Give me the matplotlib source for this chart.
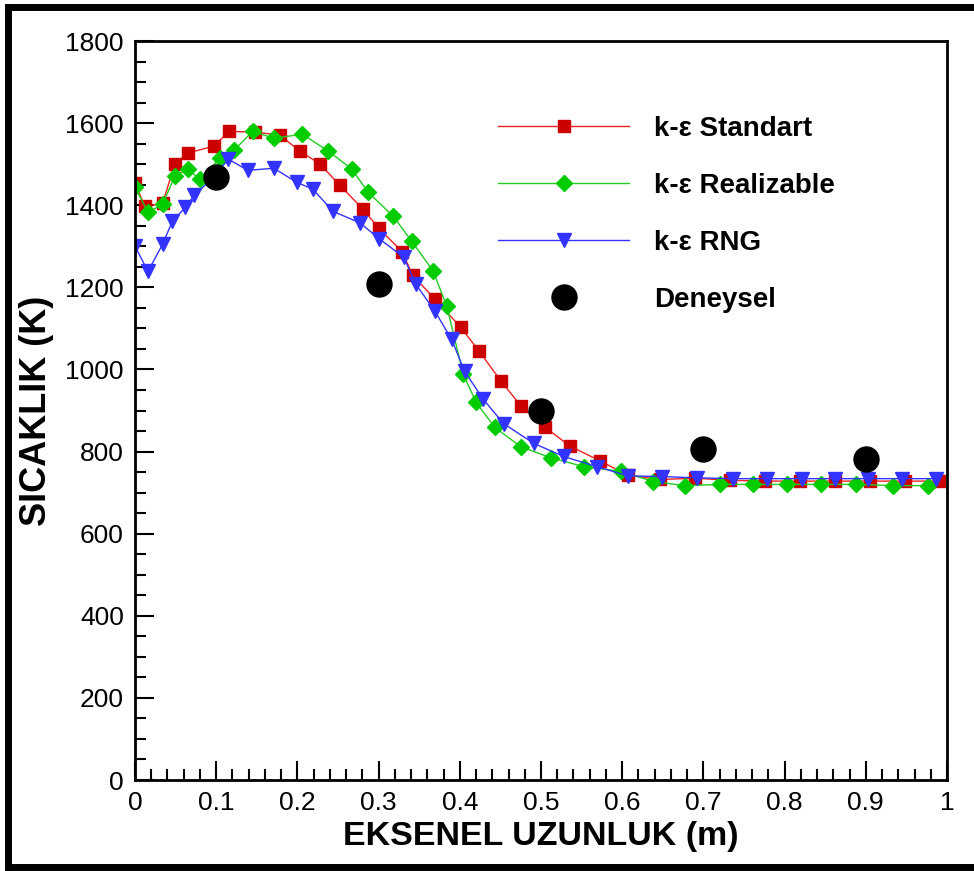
import matplotlib
matplotlib.use('Agg')
import matplotlib.pyplot as plt
from matplotlib.lines import Line2D

# k-epsilon standard model
std_x = [0.000, 0.012, 0.034, 0.049, 0.065, 0.097, 0.116, 0.148, 0.178, 0.203,
         0.228, 0.252, 0.281, 0.300, 0.329, 0.342, 0.369, 0.401, 0.424, 0.451,
         0.475, 0.505, 0.536, 0.573, 0.607, 0.647, 0.690, 0.733, 0.776, 0.819,
         0.862, 0.905, 0.948, 0.990]
std_y = [1455, 1397, 1405, 1500, 1527, 1544, 1580, 1578, 1571, 1532,
         1500, 1449, 1390, 1344, 1287, 1229, 1172, 1103, 1044, 971,
         912, 859, 813, 777, 742, 732, 735, 730, 728, 728,
         728, 728, 728, 728]

# k-epsilon realizable model
rea_x = [0.000, 0.016, 0.034, 0.049, 0.065, 0.080, 0.105, 0.122, 0.145, 0.171,
         0.206, 0.238, 0.267, 0.287, 0.318, 0.341, 0.367, 0.384, 0.404, 0.420,
         0.443, 0.475, 0.512, 0.553, 0.598, 0.638, 0.677, 0.720, 0.761, 0.803,
         0.845, 0.888, 0.934, 0.977]
rea_y = [1444, 1383, 1402, 1471, 1488, 1463, 1515, 1534, 1580, 1563,
         1573, 1532, 1488, 1432, 1373, 1312, 1240, 1154, 990, 920,
         859, 812, 785, 763, 752, 727, 717, 720, 720, 720,
         720, 720, 717, 717]

# k-epsilon RNG model
rng_x = [0.000, 0.016, 0.034, 0.046, 0.062, 0.073, 0.095, 0.115, 0.139, 0.171,
         0.199, 0.219, 0.244, 0.277, 0.301, 0.331, 0.346, 0.369, 0.390, 0.406,
         0.429, 0.454, 0.491, 0.528, 0.569, 0.607, 0.649, 0.692, 0.737, 0.778,
         0.821, 0.862, 0.903, 0.945, 0.986]
rng_y = [1300, 1239, 1305, 1361, 1395, 1424, 1465, 1512, 1485, 1490,
         1456, 1439, 1385, 1357, 1318, 1273, 1207, 1143, 1073, 995,
         927, 868, 820, 788, 763, 741, 739, 736, 734, 734,
         734, 734, 734, 734, 734]

# experimental data
exp_x = [0.1, 0.3, 0.5, 0.7, 0.9]
exp_y = [1468, 1207, 898, 807, 783]

labels = ['k-ε Standart', 'k-ε Realizable', 'k-ε RNG', 'Deneysel']

plt.rcParams['font.family'] = ['Liberation Sans', 'DejaVu Sans']

fig = plt.figure(figsize=(9.74, 8.71), dpi=100)
ax = fig.add_axes([135 / 974, 1 - 780 / 871, 812 / 974, 739 / 871])

ax.plot(std_x, std_y, color='#ee2222', lw=1.0, marker='s', ms=9,
        mfc='#cc0000', mec='#cc0000', label=labels[0])
ax.plot(rea_x, rea_y, color='#22cc22', lw=1.0, marker='D', ms=8,
        mfc='#00cc00', mec='#00cc00', label=labels[1])
ax.plot(rng_x, rng_y, color='#3333ff', lw=1.0, marker='v', ms=10,
        mfc='#3333ff', mec='#3333ff', label=labels[2])
ax.plot(exp_x, exp_y, ls='none', marker='o', ms=18, color='black',
        label=labels[3])

ax.set_xlim(0, 1)
ax.set_ylim(0, 1800)
ax.set_xticks([i / 10 for i in range(11)])
ax.set_xticklabels(['0', '0.1', '0.2', '0.3', '0.4', '0.5', '0.6', '0.7',
                    '0.8', '0.9', '1'])
ax.set_xticks([i / 50 for i in range(51)], minor=True)
ax.set_yticks(range(0, 1801, 200))
ax.set_yticks(range(0, 1801, 50), minor=True)

ax.tick_params(which='both', direction='in', width=1.5, top=False, right=False,
               labelsize=19)
ax.tick_params(which='major', length=14)
ax.tick_params(which='minor', length=8)
ax.tick_params(axis='y', pad=8)
ax.tick_params(axis='x', pad=8)
for sp in ax.spines.values():
    sp.set_linewidth(2)

ax.set_xlabel('EKSENEL UZUNLUK (m)', fontsize=24.5, fontweight='bold', labelpad=4)
ax.set_ylabel('SICAKLIK (K)', fontsize=26, fontweight='bold', labelpad=8)

ax.legend(loc='upper left', bbox_to_anchor=(0.4475, 0.899), frameon=False,
          prop={'weight': 'bold', 'size': 20}, numpoints=1,
          handlelength=4.7, handletextpad=0.9, labelspacing=1.12,
          borderpad=0, borderaxespad=0)

# black frame around the picture (right side cut off)
kw = dict(color='black', lw=5, transform=fig.transFigure, clip_on=False)
fig.add_artist(Line2D([7.5 / 974, 1.01], [1 - 7.5 / 871, 1 - 7.5 / 871], **kw))
fig.add_artist(Line2D([7.5 / 974, 7.5 / 974], [1 - 7.5 / 871, 1 - 867 / 871], **kw))
fig.add_artist(Line2D([7.5 / 974, 1.01], [1 - 867 / 871, 1 - 867 / 871], **kw))

fig.savefig('out.png', dpi=100)
